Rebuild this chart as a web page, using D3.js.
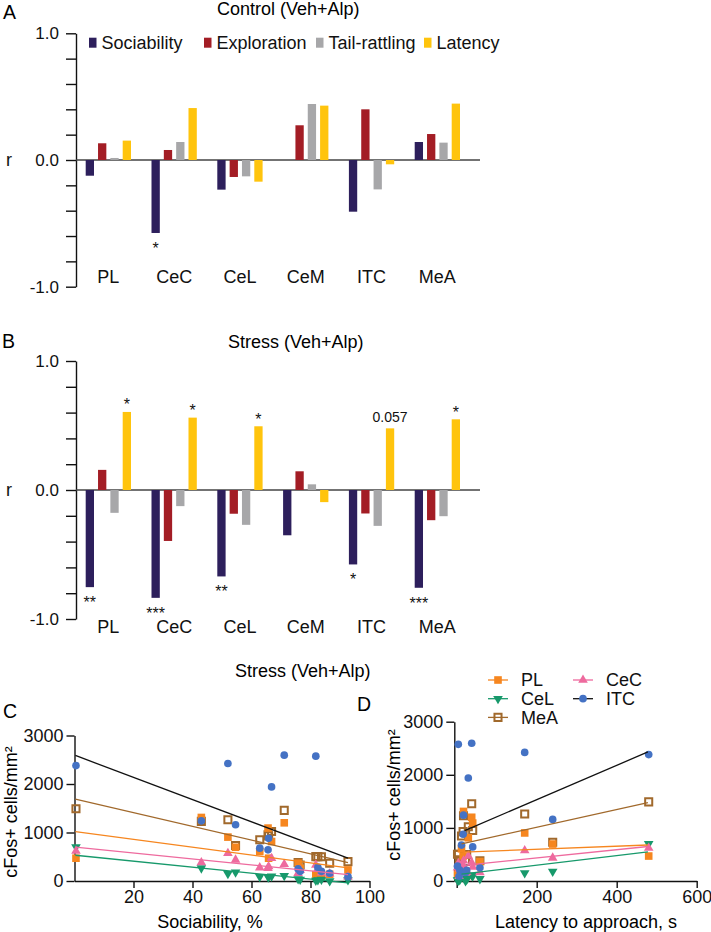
<!DOCTYPE html>
<html><head><meta charset="utf-8">
<script src="https://cdn.jsdelivr.net/npm/d3@7"></script>
<style>
body{margin:0;background:#fff;}
svg{display:block;font-family:"Liberation Sans",Arial,sans-serif;}
</style></head><body>
<svg id="chart" width="711" height="932"></svg>
<script>
// ---------- Data: bar panels ----------
const regions = ["PL", "CeC", "CeL", "CeM", "ITC", "MeA"];
const measures = ["Sociability", "Exploration", "Tail-rattling", "Latency"];
const rTicks = [-1, -0.8, -0.6, -0.4, -0.2, 0, 0.2, 0.4, 0.6, 0.8, 1];
const rTickLabels = [-1, 0, 1];

const controlSociability  = [-0.124, -0.576, -0.234, 0.0,   -0.408, 0.142];
const controlExploration  = [0.132,  0.079, -0.134, 0.274,  0.400, 0.205];
const controlTailRattling = [0.016,  0.142, -0.129, 0.442, -0.232, 0.137];
const controlLatency      = [0.153,  0.410, -0.171, 0.429, -0.034, 0.445];
const controlSocSig = ["", "*", "", "", "", ""];
const controlLatSig = ["", "", "", "", "", ""];

const stressSociability  = [-0.753, -0.836, -0.670, -0.351, -0.577, -0.758];
const stressExploration  = [0.156, -0.395, -0.184, 0.145, -0.182, -0.234];
const stressTailRattling = [-0.177, -0.125, -0.270, 0.044, -0.278, -0.203];
const stressLatency      = [0.605, 0.561, 0.494, -0.094, 0.478, 0.548];
const stressSocSig = ["**", "***", "**", "", "*", "***"];
const stressLatSig = ["*", "*", "*", "", "0.057", "*"];

// ---------- Data: scatter panels (one entry per animal) ----------
const sociability = [0.5, 43, 52, 54.6, 62.8, 65.6, 65.8, 66.8, 71.1, 75.8, 76.5, 81.8, 82.5, 83.7, 86.5, 92.7];
const latency     = [480, 17, 170, 240, 12, 40, 16, 29, 37.5, 58, 8, 4, 2, 25, 22, 6];
const cfosPL  = [470, 1310, 905, 696, 607, 1091, 470, 814, 1200, 366, 263, 130, 124, 100, 139, 228];
const cfosCeL = [700, 265, 150, 180, 89, 89, 80, 100, 110, 40, 30, 10, 20, 30, 0, 20];
const cfosCeC = [620, 380, 573, 435, 275, 262, 300, 470, 346, 160, 220, 331, 250, 170, 150, 89];
const cfosMeA = [1490, 1230, 1263, 731, 849, 952, 930, 1021, 1456, 380, 330, 503, 503, 500, 366, 400];
const cfosITC = [2380, 1240, 2422, 1160, 677, 642, 880, 1940, 2594, 250, 200, 2574, 280, 200, 160, 90];

const scatterRegions = ["PL", "CeL", "MeA", "CeC", "ITC"];
// regression lines (endpoints in data units), order as scatterRegions
const fitSocX0 = [0.3, 0.3, 0.3, 0.3, 0.3];
const fitSocX1 = [92.7, 92.7, 92.7, 92.7, 92.7];
const fitSocY0 = [1020, 531, 1690, 697, 2588];
const fitSocY1 = [270, -40, 380, 130, 470];
const fitLatX0 = [16, 12, 12, 12, 20];
const fitLatX1 = [478, 478, 478, 478, 478];
const fitLatY0 = [543, 130, 700, 290, 950];
const fitLatY1 = [678, 550, 1475, 650, 2430];

const socTicks = [20, 40, 60, 80, 100];
const latTicks = [0, 200, 400, 600];
const cfosTicks = [0, 1000, 2000, 3000];

// ---------- Styles ----------
const barColors = ["#2d1f5c", "#a31d25", "#a7a7a9", "#ffc40d"];
const regionStyle = {
  PL:  {color: "#f6861f", line: "#f6861f", shape: "square", fill: true},
  CeL: {color: "#17996b", line: "#17996b", shape: "tridown", fill: true},
  MeA: {color: "#a1692c", line: "#a1692c", shape: "square", fill: false},
  CeC: {color: "#ee6a9e", line: "#ee6a9e", shape: "triup", fill: true},
  ITC: {color: "#4472c4", line: "#111111", shape: "circle", fill: true}
};

const svg = d3.select("#chart");
const FS = 18;

function rFmt(d) { return rTickLabels.some(t => Math.abs(t - d) < 1e-9) ? (d < 0 ? "-" : "") + Math.abs(d).toFixed(1) : ""; }

function barPanel(o) {
  const g = svg.append("g");
  const y = d3.scaleLinear().domain([-1, 1]).range([o.yBottom, o.yTop]);
  const x0 = d3.scaleBand().domain(regions).range([85.7, 460]).paddingInner(0.3116).paddingOuter(0);
  const x1 = d3.scaleBand().domain(measures).range([0, x0.bandwidth()]).paddingInner(0.327).paddingOuter(0);
  const series = [o.soc, o.expl, o.tail, o.lat];

  const ax = g.append("g").attr("transform", `translate(76,0)`)
    .call(d3.axisLeft(y).tickValues(rTicks).tickFormat(rFmt).tickSize(10).tickPadding(7).tickSizeOuter(0));
  ax.selectAll("path,line").attr("stroke", "#111").attr("stroke-width", 1.4);
  ax.selectAll("text").attr("font-size", 17).attr("fill", "#111").attr("font-family", "Liberation Sans, Arial, sans-serif");

  // zero line
  g.append("line").attr("x1", 76).attr("x2", 480).attr("y1", y(0)).attr("y2", y(0))
    .attr("stroke", "#444").attr("stroke-width", 1.3);

  measures.forEach((m, mi) => {
    g.selectAll(null).data(regions).enter().append("rect")
      .attr("x", r => x0(r) + x1(m))
      .attr("width", x1.bandwidth())
      .attr("y", (r, i) => Math.min(y(series[mi][i]), y(0)))
      .attr("height", (r, i) => Math.abs(y(series[mi][i]) - y(0)))
      .attr("fill", barColors[mi]);
  });

  // significance labels
  const addSig = (sig, vals, mi) => {
    sig.forEach((s, i) => {
      if (!s) return;
      const v = vals[i];
      const cx = x0(regions[i]) + x1(measures[mi]) + x1.bandwidth() / 2;
      const isStar = s.indexOf("*") >= 0;
      const fs = isStar ? 16 : 14;
      let cy;
      if (v < 0) cy = y(v) + 11.5; else cy = y(v) - 11;
      const base = isStar ? cy + 0.58 * fs : cy + 0.36 * fs;
      g.append("text").attr("x", cx).attr("y", base).attr("text-anchor", "middle")
        .attr("font-size", fs).attr("fill", "#111").text(s);
    });
  };
  addSig(o.socSig, o.soc, 0);
  addSig(o.latSig, o.lat, 3);

  g.selectAll(null).data(regions).enter().append("text")
    .attr("x", r => x0(r) + x0.bandwidth() / 2).attr("y", o.labelBase)
    .attr("text-anchor", "middle").attr("font-size", FS).attr("fill", "#111").text(r => r);

  g.append("text").attr("x", 6).attr("y", y(0) + 5.5).attr("font-size", FS).attr("fill", "#111").text("r");
}

barPanel({yTop: 33.3, yBottom: 286.7, soc: controlSociability, expl: controlExploration, tail: controlTailRattling,
  lat: controlLatency, socSig: controlSocSig, latSig: controlLatSig, labelBase: 283.3});
barPanel({yTop: 361, yBottom: 619, soc: stressSociability, expl: stressExploration, tail: stressTailRattling,
  lat: stressLatency, socSig: stressSocSig, latSig: stressLatSig, labelBase: 632.5});

// titles & letters
svg.append("text").attr("x", 3).attr("y", 18.5).attr("font-size", 19.5).text("A");
svg.append("text").attr("x", 217).attr("y", 14.5).attr("font-size", FS).text("Control (Veh+Alp)");
svg.append("text").attr("x", 2).attr("y", 347.5).attr("font-size", 19.5).text("B");
svg.append("text").attr("x", 228).attr("y", 347.7).attr("font-size", FS).text("Stress (Veh+Alp)");

// legend A
const legX = [89, 204, 316, 424];
measures.forEach((m, i) => {
  svg.append("rect").attr("x", legX[i]).attr("y", 37.7).attr("width", 7.5).attr("height", 10).attr("fill", barColors[i]);
  svg.append("text").attr("x", legX[i] + 12.5).attr("y", 49).attr("font-size", FS).attr("fill", "#111").text(m);
});

// ---------- scatter panels ----------
const cfosData = {PL: cfosPL, CeL: cfosCeL, MeA: cfosMeA, CeC: cfosCeC, ITC: cfosITC};

function marker(sel, region, cx, cy) {
  const st = regionStyle[region];
  if (st.shape === "square" && st.fill) {
    sel.append("path").attr("d", d3.symbol(d3.symbolSquare, 58)()).attr("transform", `translate(${cx},${cy})`).attr("fill", st.color);
  } else if (st.shape === "square") {
    sel.append("path").attr("d", d3.symbol(d3.symbolSquare, 50)()).attr("transform", `translate(${cx},${cy})`)
      .attr("fill", "none").attr("stroke", st.color).attr("stroke-width", 2);
  } else if (st.shape === "triup") {
    sel.append("path").attr("d", d3.symbol(d3.symbolTriangle, 40)()).attr("transform", `translate(${cx},${cy})`).attr("fill", st.color);
  } else if (st.shape === "tridown") {
    sel.append("path").attr("d", d3.symbol(d3.symbolTriangle, 40)()).attr("transform", `translate(${cx},${cy}) rotate(180)`).attr("fill", st.color);
  } else {
    sel.append("path").attr("d", d3.symbol(d3.symbolCircle, 46)()).attr("transform", `translate(${cx},${cy})`).attr("fill", st.color);
  }
}

function scatterPanel(o) {
  const g = svg.append("g");
  const x = d3.scaleLinear().domain(o.xDomain).range(o.xRange);
  const y = d3.scaleLinear().domain([0, 3000]).range([881, o.yTop]);

  const ax = g.append("g").attr("transform", `translate(0,881)`)
    .call(d3.axisBottom(x).tickValues(o.xTicks).tickFormat(d => d === 0 ? "" : String(d)).tickSize(7).tickPadding(2).tickSizeOuter(0));
  const ay = g.append("g").attr("transform", `translate(${o.xRange[0]},0)`)
    .call(d3.axisLeft(y).tickValues(cfosTicks).tickFormat(d => String(d)).tickSize(8).tickPadding(3).tickSizeOuter(0));
  [ax, ay].forEach(a => {
    a.selectAll("path,line").attr("stroke", "#111").attr("stroke-width", 1.4);
    a.selectAll("text").attr("font-size", FS).attr("fill", "#111").attr("font-family", "Liberation Sans, Arial, sans-serif");
  });

  const drawOrder = ["MeA", "PL", "CeL", "CeC", "ITC"];
  drawOrder.forEach(r => {
    cfosData[r].forEach((v, i) => marker(g, r, x(o.xVals[i]), y(v)));
  });
  scatterRegions.forEach((r, i) => {
    g.append("line").attr("x1", x(o.fx0[i])).attr("x2", x(o.fx1[i]))
      .attr("y1", y(o.fy0[i])).attr("y2", y(o.fy1[i]))
      .attr("stroke", regionStyle[r].line).attr("stroke-width", 1.3);
  });

  g.append("text").attr("x", o.xTitleX).attr("y", 928).attr("text-anchor", "middle").attr("font-size", FS).text(o.xTitle);
  g.append("text").attr("transform", `translate(${o.yTitleX},${o.yTitleY}) rotate(-90)`).attr("text-anchor", "middle")
    .attr("font-size", FS).text("cFos+ cells/mm²");
}

scatterPanel({xDomain: [0, 100], xRange: [74.5, 369.5], yTop: 735.5, xTicks: socTicks, xVals: sociability,
  fx0: fitSocX0, fx1: fitSocX1, fy0: fitSocY0, fy1: fitSocY1, xTitle: "Sociability, %", xTitleX: 210,
  yTitleX: 17, yTitleY: 812});
scatterPanel({xDomain: [-6, 600], xRange: [454.3, 696.7], yTop: 721.7, xTicks: latTicks, xVals: latency,
  fx0: fitLatX0, fx1: fitLatX1, fy0: fitLatY0, fy1: fitLatY1, xTitle: "Latency to approach, s", xTitleX: 586,
  yTitleX: 400, yTitleY: 795});

svg.append("text").attr("x", 235).attr("y", 676.7).attr("font-size", FS).text("Stress (Veh+Alp)");
svg.append("text").attr("x", 3).attr("y", 718).attr("font-size", 19.5).text("C");
svg.append("text").attr("x", 357).attr("y", 711).attr("font-size", 19.5).text("D");

// legend D
const legD = [
  {r: "PL", x: 488, y: 680}, {r: "CeL", x: 488, y: 698.7}, {r: "MeA", x: 488, y: 717.4},
  {r: "CeC", x: 573, y: 680}, {r: "ITC", x: 573, y: 698.7}
];
legD.forEach(d => {
  const st = regionStyle[d.r];
  svg.append("line").attr("x1", d.x).attr("x2", d.x + 20).attr("y1", d.y).attr("y2", d.y)
    .attr("stroke", st.line).attr("stroke-width", 1.3);
  marker(svg, d.r, d.x + 10, d.y);
  svg.append("text").attr("x", d.x + 33).attr("y", d.y + 6.3).attr("font-size", FS).attr("fill", "#111").text(d.r);
});
</script>
</body></html>
